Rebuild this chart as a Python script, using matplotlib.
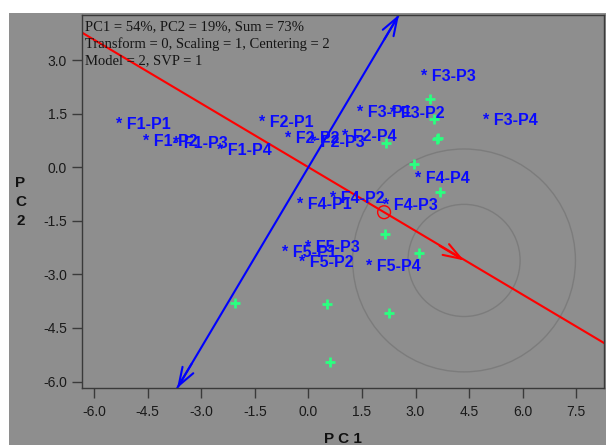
import matplotlib
matplotlib.use('Agg')
import matplotlib.pyplot as plt
from matplotlib.patches import Rectangle, Circle
import numpy as np

# ---------------- data ----------------
geno_labels = ['F1-P1', 'F1-P2', 'F1-P3', 'F1-P4',
               'F2-P1', 'F2-P2', 'F2-P3', 'F2-P4',
               'F3-P1', 'F3-P2', 'F3-P3', 'F3-P4',
               'F4-P1', 'F4-P2', 'F4-P3', 'F4-P4',
               'F5-P1', 'F5-P2', 'F5-P3', 'F5-P4']
geno_x = [-5.31, -4.56, -3.71, -2.48,
          -1.29, -0.58, 0.13, 1.04,
          1.44, 2.38, 3.24, 4.99,
          -0.24, 0.68, 2.17, 3.06,
          -0.66, -0.17, 0.00, 1.69]
geno_y = [1.30, 0.83, 0.76, 0.57,
          1.35, 0.90, 0.79, 0.95,
          1.64, 1.60, 2.63, 1.40,
          -0.94, -0.78, -0.98, -0.22,
          -2.30, -2.58, -2.15, -2.69]

env_x = [3.42, 3.52, 3.59, 3.63, 2.17, 2.96, 3.68, 2.14, 3.10, 0.52, 2.26, 0.60, -2.06]
env_y = [1.91, 1.35, 0.79, 0.81, 0.69, 0.09, -0.70, -1.87, -2.40, -3.83, -4.09, -5.46, -3.79]

aec_x, aec_y = 2.12, -1.26          # average environment
ideal_x, ideal_y = 4.36, -2.61      # ideal genotype (circle centre / arrow tip)
circle_radii = [1.57, 3.12]

xticks = [-6.0, -4.5, -3.0, -1.5, 0.0, 1.5, 3.0, 4.5, 6.0, 7.5]
yticks = [-6.0, -4.5, -3.0, -1.5, 0.0, 1.5, 3.0]
info_lines = ['PC1 = 54%, PC2 = 19%, Sum = 73%',
              'Transform = 0, Scaling = 1, Centering = 2',
              'Model = 2, SVP = 1']

# ---------------- figure ----------------
W, H = 606, 445
BG = '#8e8e8e'
fig = plt.figure(figsize=(W / 100, H / 100), dpi=100, facecolor='white')
fig.patches.append(Rectangle((9 / W, 0), 1 - 9 / W, 1 - 13 / H, transform=fig.transFigure,
                             facecolor=BG, edgecolor='none', zorder=-10))

ax = fig.add_axes([81.7 / W, 1 - 388.3 / H, (604 - 81.7) / W, (388.3 - 14.7) / H])
ax.set_facecolor(BG)
xmin, xmax, ymin, ymax = -6.35, 8.28, -6.19, 4.27
ax.set_xlim(xmin, xmax)
ax.set_ylim(ymin, ymax)

for s in ax.spines.values():
    s.set_color('#3a3a3a')
    s.set_linewidth(1.0)

ax.set_xticks(xticks)
ax.set_xticklabels(['%.1f' % v for v in xticks])
ax.set_yticks(yticks)
ax.set_yticklabels(['%.1f' % v for v in yticks])
ax.tick_params(direction='out', length=7.2, width=1, color='#3a3a3a',
               labelsize=10, labelcolor='#1a1a1a')
ax.tick_params(axis='x', pad=4.5)
ax.tick_params(axis='y', pad=3.5)
for lab in ax.get_xticklabels() + ax.get_yticklabels():
    lab.set_fontfamily('Liberation Sans')

# concentric circles
for r in circle_radii:
    ax.add_patch(Circle((ideal_x, ideal_y), r, facecolor='none', edgecolor='#7c7c7c',
                        lw=1.0, zorder=1))

# AEA line (red)
ax.axline((0, 0), (aec_x, aec_y), color='#ff0000', lw=1.5, zorder=2)
d = np.array([ideal_x, ideal_y]) / np.hypot(ideal_x, ideal_y)
ax.annotate('', xy=(ideal_x, ideal_y), xytext=(ideal_x - 0.8 * d[0], ideal_y - 0.8 * d[1]),
            arrowprops=dict(arrowstyle='->,head_length=1.3,head_width=0.45', color='#ff0000',
                            lw=1.5, shrinkA=0, shrinkB=0), zorder=2)
ax.add_patch(Circle((aec_x, aec_y), 0.18, facecolor='none', edgecolor='#ff0000', lw=1.0, zorder=2))

# ordinate (blue) perpendicular through origin
px, py = -aec_y, aec_x
t_top = ymax / py
t_bot = ymin / py
top = (px * t_top, ymax)
bot = (px * t_bot, ymin)
ax.plot([bot[0], top[0]], [bot[1], top[1]], color='#0000ff', lw=1.5, zorder=2)
u = np.array([px, py]) / np.hypot(px, py)
for end, sgn in ((top, 1), (bot, -1)):
    ax.annotate('', xy=end, xytext=(end[0] - sgn * 0.8 * u[0], end[1] - sgn * 0.8 * u[1]),
                arrowprops=dict(arrowstyle='->,head_length=1.3,head_width=0.45', color='#0000ff',
                                lw=1.5, shrinkA=0, shrinkB=0), zorder=2, annotation_clip=False)

# environments
ax.plot(env_x, env_y, linestyle='none', marker='+', markersize=7, mew=2,
        color='#2bff80', zorder=3)

# genotype labels
for lab, x, y in zip(geno_labels, geno_x, geno_y):
    ax.annotate('* ' + lab, xy=(x, y), xytext=(-2.2, -2.5), textcoords='offset points',
                ha='left', va='center', fontsize=11.5, fontweight='bold',
                family='Liberation Sans', color='#0a0aff', zorder=4)

# info text (serif)
for i, line in enumerate(info_lines):
    fig.text(85.5 / W, 1 - (27.0 + i * 16.7) / H, line, ha='left', va='center',
             family='Liberation Serif', fontsize=10.5, color='#151515')

# axis labels
fig.text(343 / W, 1 - 432 / H, 'P C 1', ha='center', va='top', fontsize=11,
         fontweight='bold', family='Liberation Sans', color='#111111')
fig.text(20.5 / W, 1 - 202 / H, 'P\nC\n2', ha='center', va='center', fontsize=11,
         fontweight='bold', family='Liberation Sans', color='#111111', linespacing=1.45)

fig.savefig('out.png', dpi=100, facecolor='white')
